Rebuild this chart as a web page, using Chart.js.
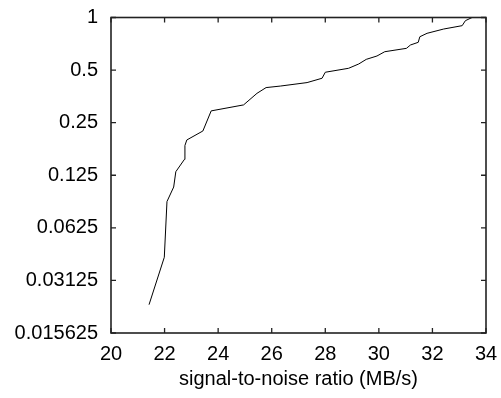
<!DOCTYPE html>
<html>
<head>
<meta charset="utf-8">
<script src="https://cdn.jsdelivr.net/npm/chart.js@4/dist/chart.umd.min.js"></script>
<style>
html,body{margin:0;padding:0;background:#fff;}
#wrap{width:501px;height:398px;}
</style>
</head>
<body>
<div id="wrap"><canvas id="c" width="501" height="398"></canvas></div>
<script>
// Data
const snrValues = [21.42, 21.99, 22.09, 22.34, 22.42, 22.74, 22.76, 22.83, 23.43, 23.74, 24.95, 25.45, 25.79, 26.32, 27.32, 27.88, 28.00, 28.87, 29.25, 29.53, 29.93, 30.22, 31.03, 31.18, 31.47, 31.53, 31.80, 32.42, 33.11, 33.23, 33.48];
const fractionValues = [0.0227, 0.0424, 0.0884, 0.107, 0.131, 0.154, 0.185, 0.199, 0.224, 0.292, 0.316, 0.368, 0.397, 0.405, 0.424, 0.449, 0.486, 0.512, 0.542, 0.576, 0.602, 0.637, 0.666, 0.696, 0.721, 0.776, 0.812, 0.859, 0.898, 0.959, 1.0];
const xTicks = [20, 22, 24, 26, 28, 30, 32, 34];
const yTicks = [0.015625, 0.03125, 0.0625, 0.125, 0.25, 0.5, 1];
const xTitle = 'signal-to-noise ratio (MB/s)';

const FONT = "'Liberation Sans', Arial, Helvetica, sans-serif";
const points = snrValues.map((x, i) => ({x: x, y: fractionValues[i]}));

const frame = {
  id: 'frame',
  afterDraw(chart) {
    const {ctx, chartArea: a, scales} = chart;
    const tl = 5;
    ctx.save();
    ctx.strokeStyle = '#222';
    ctx.lineWidth = 1.3;
    ctx.beginPath();
    xTicks.forEach(v => {
      const px = scales.x.getPixelForValue(v);
      ctx.moveTo(px, a.bottom); ctx.lineTo(px, a.bottom - tl);
      ctx.moveTo(px, a.top); ctx.lineTo(px, a.top + tl);
    });
    yTicks.forEach(v => {
      const py = scales.y.getPixelForValue(v);
      ctx.moveTo(a.left, py); ctx.lineTo(a.left + tl, py);
      ctx.moveTo(a.right, py); ctx.lineTo(a.right - tl, py);
    });
    ctx.stroke();
    ctx.lineWidth = 1.6;
    ctx.strokeRect(a.left, a.top, a.right - a.left, a.bottom - a.top);
    ctx.restore();
  }
};

new Chart(document.getElementById('c'), {
  type: 'line',
  data: {
    datasets: [{
      data: points,
      borderColor: '#000',
      borderWidth: 1,
      pointRadius: 0,
      fill: false,
      tension: 0
    }]
  },
  options: {
    responsive: false,
    animation: false,
    events: [],
    layout: {padding: {top: 17.5, right: 15, left: 0, bottom: 0}},
    plugins: {legend: {display: false}, tooltip: {enabled: false}},
    scales: {
      x: {
        type: 'linear',
        min: 20, max: 34,
        afterBuildTicks: s => { s.ticks = xTicks.map(v => ({value: v})); },
        afterFit: s => { s.height = 65; s.paddingLeft = 0; s.paddingRight = 0; s.paddingTop = 0; s.paddingBottom = 0; },
        grid: {display: false, drawTicks: false},
        border: {display: false},
        ticks: {padding: 9, color: '#000', font: {family: FONT, size: 20}, maxRotation: 0, autoSkip: false},
        title: {display: true, text: xTitle, color: '#000', font: {family: FONT, size: 20}, padding: {top: 0, bottom: 7}}
      },
      y: {
        type: 'logarithmic',
        min: 0.015625, max: 1,
        afterBuildTicks: s => { s.ticks = yTicks.map(v => ({value: v})); },
        afterFit: s => { s.width = 111; s.paddingTop = 0; s.paddingBottom = 0; s.paddingLeft = 0; s.paddingRight = 0; },
        grid: {display: false, drawTicks: false},
        border: {display: false},
        ticks: {padding: 13, color: '#000', font: {family: FONT, size: 20}, autoSkip: false,
          callback: v => String(v)}
      }
    }
  },
  plugins: [frame]
});
</script>
</body>
</html>
